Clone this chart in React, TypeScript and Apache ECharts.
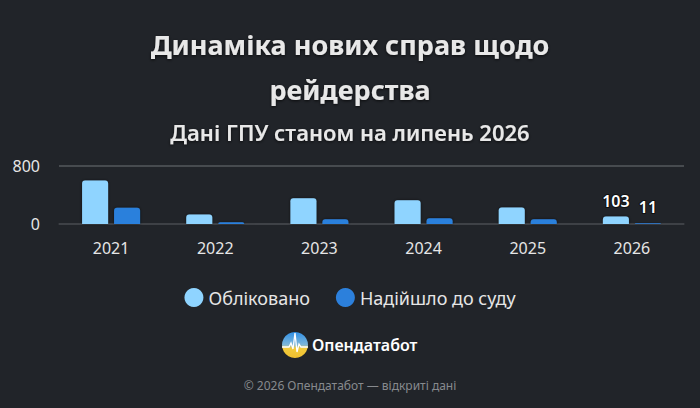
import React, { useEffect, useRef } from "react";
import * as echarts from "echarts";

const categories = ["2021", "2022", "2023", "2024", "2025", "2026"];
const registered = [600, 131, 354, 327, 229, 103];
const toCourt = [223, 25, 65, 80, 65, 11];
const yTicks = [0, 800];

const FONT = "'Noto Sans', 'Open Sans', sans-serif";

export default function App() {
  const ref = useRef<HTMLDivElement>(null);
  useEffect(() => {
    document.body.style.margin = "0";
    const chart = echarts.init(ref.current!, null, { renderer: "svg" });
    const lastIdx = categories.length - 1;
    const mk = (arr: number[]) =>
      arr.map((v, i) =>
        i === lastIdx
          ? {
              value: v,
              label: {
                show: true,
                position: "top",
                distance: 8,
                color: "#ffffff",
                fontSize: 16,
                fontWeight: 600,
                fontFamily: FONT,
                textBorderColor: "#111",
                textBorderWidth: 2,
              },
            }
          : v
      );
    chart.setOption({
      animation: false,
      backgroundColor: "#212429",
      textStyle: { fontFamily: FONT },
      title: [
        {
          text: "Динаміка нових справ щодо\nрейдерства",
          left: "center",
          top: 17,
          textStyle: {
            color: "#e8e8e8",
            fontSize: 27,
            fontWeight: "bold",
            lineHeight: 45,
            fontFamily: FONT,
            textShadowColor: "rgba(0,0,0,0.7)",
            textShadowBlur: 3,
            textShadowOffsetY: 1,
          },
        },
        {
          text: "Дані ГПУ станом на липень 2026",
          left: "center",
          top: 116,
          textStyle: {
            color: "#e8e8e8",
            fontSize: 22,
            fontWeight: 600,
            fontFamily: FONT,
            textShadowColor: "rgba(0,0,0,0.7)",
            textShadowBlur: 3,
            textShadowOffsetY: 1,
          },
        },
      ],
      legend: {
        top: 283,
        left: "center",
        icon: "circle",
        itemWidth: 19,
        itemHeight: 19,
        itemGap: 26,
        textStyle: { color: "#e6e6e6", fontSize: 18, fontFamily: FONT },
        data: ["Обліковано", "Надійшло до суду"],
      },
      grid: { left: 59, right: 16, top: 166, bottom: 184 },
      xAxis: {
        type: "category",
        data: categories,
        axisLine: { lineStyle: { color: "#3c3f44", width: 1.5 } },
        axisTick: { alignWithLabel: true, length: 6, lineStyle: { color: "#3c3f44" } },
        axisLabel: { color: "#e6e6e6", fontSize: 16, margin: 16, fontFamily: FONT },
      },
      yAxis: {
        type: "value",
        min: yTicks[0],
        max: yTicks[1],
        interval: yTicks[1] - yTicks[0],
        axisLabel: { color: "#e6e6e6", fontSize: 16, margin: 19, fontFamily: FONT },
        splitLine: { lineStyle: { color: "#55585c", width: 1.5 } },
        axisLine: { show: false },
        axisTick: { show: false },
      },
      series: [
        {
          name: "Обліковано",
          type: "bar",
          data: mk(registered),
          barWidth: 26,
          barGap: "23%",
          itemStyle: {
            color: "#8fd4ff",
            borderRadius: [3, 3, 0, 0],
            shadowColor: "rgba(0,0,0,0.6)",
            shadowBlur: 3,
          },
        },
        {
          name: "Надійшло до суду",
          type: "bar",
          data: mk(toCourt),
          barWidth: 26,
          itemStyle: {
            color: "#2c80dc",
            borderRadius: [3, 3, 0, 0],
            shadowColor: "rgba(0,0,0,0.6)",
            shadowBlur: 3,
          },
        },
      ],
      graphic: [
        {
          type: "circle",
          shape: { cx: 295, cy: 345, r: 13 },
          style: {
            fill: new echarts.graphic.LinearGradient(0, 0, 0, 1, [
              { offset: 0, color: "#2f8fe6" },
              { offset: 0.5, color: "#7fb7d8" },
              { offset: 0.62, color: "#f2cb3c" },
              { offset: 1, color: "#f0c030" },
            ]),
          },
        },
        {
          type: "polyline",
          shape: {
            points: [
              [282, 347],
              [289, 347],
              [291, 343],
              [293, 349],
              [295, 333],
              [297, 352],
              [299, 344],
              [301, 347],
              [308, 347],
            ],
          },
          style: { stroke: "#ffffff", lineWidth: 1.3, fill: null },
        },
        {
          type: "text",
          x: 312,
          y: 345,
          style: {
            text: "Опендатабот",
            fill: "#ffffff",
            fontSize: 16,
            fontWeight: 600,
            fontFamily: FONT,
            verticalAlign: "middle",
          },
        },
        {
          type: "text",
          x: 350,
          y: 385,
          style: {
            text: "© 2026 Опендатабот — відкриті дані",
            fill: "#878a8e",
            fontSize: 12,
            fontFamily: FONT,
            align: "center",
            verticalAlign: "middle",
          },
        },
      ],
    });
    return () => chart.dispose();
  }, []);
  return <div ref={ref} style={{ width: 700, height: 408 }} />;
}
